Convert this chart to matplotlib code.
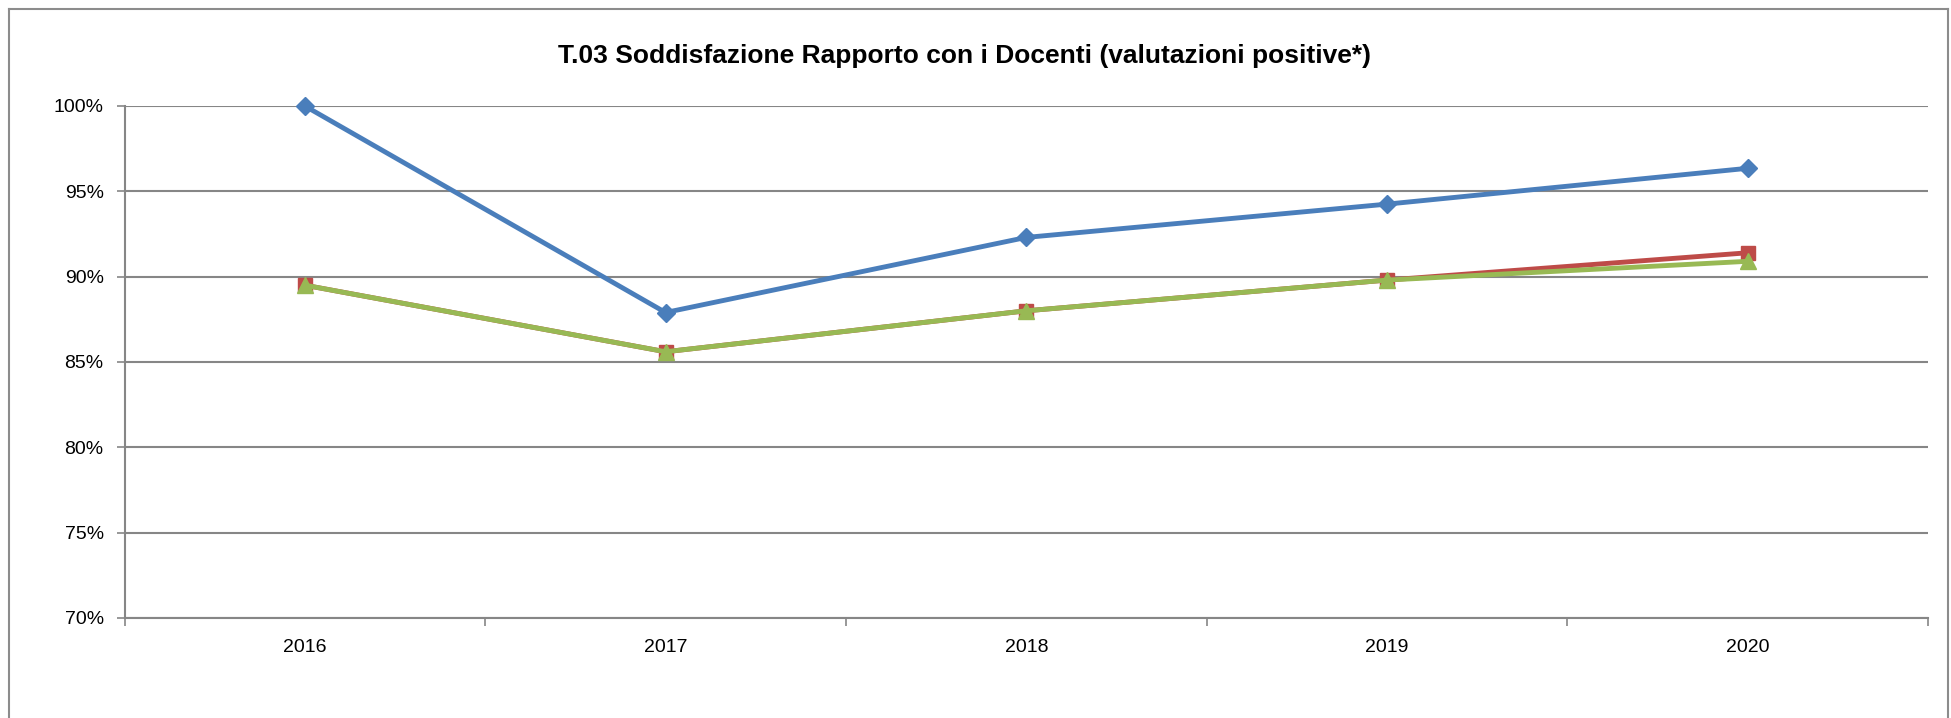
import matplotlib
matplotlib.use("Agg")
import matplotlib.pyplot as plt
from matplotlib.lines import Line2D
from matplotlib import font_manager

years = ["2016", "2017", "2018", "2019", "2020"]
serie_blu = [100.0, 87.9, 92.3, 94.25, 96.35]
serie_rossa = [89.5, 85.6, 88.0, 89.8, 91.4]
serie_verde = [89.5, 85.6, 88.0, 89.8, 90.9]
y_ticks = [70, 75, 80, 85, 90, 95, 100]
title = "T.03 Soddisfazione Rapporto con i Docenti (valutazioni positive*)"

names = {f.name for f in font_manager.fontManager.ttflist}
fam = "Liberation Sans Narrow" if "Liberation Sans Narrow" in names else "Liberation Sans"
plt.rcParams['font.family'] = [fam, 'DejaVu Sans']

W, H = 1951, 718
fig = plt.figure(figsize=(W / 100, H / 100), dpi=100)
fig.patch.set_facecolor("white")

left, right, top, bottom = 124.5, 1928, 106, 618
ax = fig.add_axes([left / W, 1 - bottom / H, (right - left) / W, (bottom - top) / H])

grid_c = "#868686"
x = list(range(len(years)))
ax.set_xlim(-0.5, len(years) - 0.5)
ax.set_ylim(70, 100)
ax.set_yticks(y_ticks)
ax.set_yticklabels([f"{v}%" for v in y_ticks])
ax.yaxis.grid(True, color=grid_c, linewidth=1.5)
ax.set_axisbelow(True)
for s in ["top", "right"]:
    ax.spines[s].set_visible(False)
for s in ["left", "bottom"]:
    ax.spines[s].set_color(grid_c)
    ax.spines[s].set_linewidth(1.5)
ax.tick_params(axis="y", length=6, width=1.2, color=grid_c, labelsize=14, pad=9)

# category boundaries as major ticks, labels centered on minor positions
ax.set_xticks([i - 0.5 for i in range(len(years) + 1)])
ax.set_xticklabels([])
ax.set_xticks(x, minor=True)
ax.set_xticklabels(years, minor=True)
ax.tick_params(axis="x", which="major", length=6, width=1.2, color=grid_c, direction="out")
ax.tick_params(axis="x", which="minor", length=0, labelsize=14, pad=15)

ax.plot(x, serie_blu, color="#4A7EBB", lw=3.5, marker="D", ms=9.5, zorder=3, clip_on=False)
ax.plot(x, serie_rossa, color="#BE4B48", lw=3.5, marker="s", ms=10.5, zorder=4, clip_on=False)
ax.plot(x, serie_verde, color="#98B954", lw=3.5, marker="^", ms=11, zorder=5, clip_on=False)

fig.text(964 / W, 1 - 56 / H, title, ha="center", va="center",
         fontsize=19, fontweight="bold")

# outer chart frame
fc = "#8C8C8C"
for xs, ys in [([9, 9], [9, 718]), ([9, 1948], [9, 9]), ([1948, 1948], [9, 718])]:
    fig.add_artist(Line2D([a / W for a in xs], [1 - b / H for b in ys],
                          color=fc, lw=1.5, transform=fig.transFigure))

fig.savefig("out.png", dpi=100)
